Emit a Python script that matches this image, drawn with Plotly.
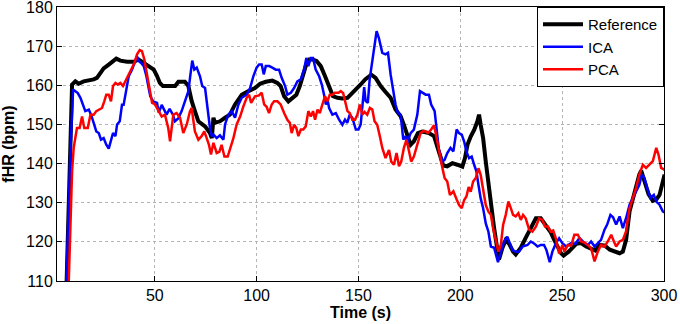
import plotly.graph_objects as go

ref_t = [6.2, 9.4, 11, 12.6, 15.1, 17.6, 20, 21.6, 23.3, 24.9, 27.4, 29.5, 31.1, 33.1, 36.4, 39.7, 42.1, 44.6, 47, 49.5,
         51, 52.5, 54, 60, 61.6, 64.8, 66.5, 68.1, 69.7, 71.4, 74.7, 77.1, 78, 78.8, 79.6, 82, 84.5, 86.9, 89.4, 92.7,
         96, 99.2, 101.7, 104.5, 107.7, 110.2, 111.8, 113.5, 115.6, 117.6, 119.5, 121.2, 122.5, 124.1, 125.8, 127.4,
         129.4, 131.5, 133.6, 135.6, 137.5, 139.7, 142.1, 144.6, 146.2, 148.7, 151.1, 153.3, 156.3, 158.4, 160.9,
         163.3, 165.8, 168.2, 170.7, 172.3, 174, 175.6, 177.2, 179.2, 181.3, 184.6, 187.1, 189.5, 191.6, 193.6, 196.1,
         198.5, 201, 202.3, 203.5, 205.1, 206.8, 208.4, 209.2, 210, 211.2, 212.5, 213.8, 215, 216.6, 218.2, 219,
         220.7, 222.3, 224, 225.9, 227.2, 229.7, 232.1, 234.6, 237.1, 239.5, 242, 244.4, 246.1, 247.7, 249.3, 250.7,
         253.2, 256.9, 259.3, 261.8, 264.2, 266.3, 268.5, 271, 273.4, 275.9, 278.2, 279.8, 281.4, 283.1, 284.7,
         286.3, 287.9, 288.8, 290.4, 292.4, 294.5, 296.2, 297.8, 299.1, 300.3]
ref_hr = [100, 160.2, 161, 160.4, 161, 161.2, 161.5, 161.9, 163.2, 164.3, 165.3, 166.2, 166.8, 166.3, 166, 166, 166.6,
          165.7, 164.9, 164, 162.5, 160.6, 159.8, 159.8, 160.9, 160.9, 159.8, 156, 153.4, 150.8, 149.5, 147.8, 146.5,
          151.7, 150.4, 150.8, 151.7, 152.5, 155.1, 157.6, 158.5, 159.3, 160.4, 160.9, 161.2, 160.6, 159.8, 157.2,
          155.9, 156.8, 157.6, 159.8, 162.3, 164.9, 166.6, 166.6, 166.2, 164.9, 162.3, 159.3, 157.2, 156.8, 156.6,
          156.8, 157.6, 158.9, 160.2, 161.5, 162.7, 161.9, 159.8, 158.3, 156.8, 153.8, 152.1, 149.9, 147, 144.8,
          145.7, 147.8, 148.2, 147.8, 147, 143.1, 139.5, 139.3, 140.1, 139.7, 139.2, 141.4, 144.8, 146.9, 148.6,
          150.8, 152.5, 149.9, 146.5, 140.5, 134.6, 129.4, 123.5, 118, 115.5, 118.5, 120.5, 119.5, 117.5, 116.8,
          118.5, 121, 123.5, 126, 126, 124.3, 122.4, 120.5, 118.8, 117.2, 116.5, 117.5, 119.5, 119.7, 118.8, 118.2,
          117.8, 119.2, 119, 118, 117.4, 117.1, 117.5, 120.5, 127.8, 131.2, 133.8, 137.2, 138.2, 135.5, 132.2,
          130.5, 130.8, 132, 135, 137.2]

ica_t = [6.0, 8.5, 9.9, 11, 12.2, 13.5, 14.8, 15.9, 17.6, 18.7, 20, 21.3, 22.5, 23.6, 24.9, 26.2, 27.4, 28.5, 29.5,
         30.7, 31.5, 32.8, 33.9, 34.7, 36.1, 37.2, 38.8, 40.5, 41.3, 42.1, 43.3, 44.6, 45.9, 47, 47.8, 49.2, 51.1,
         52, 53.4, 55.8, 57.3, 58.9, 59.9, 61.5, 63.2, 64.8, 66.5, 67.3, 68.4, 69.4, 70.6, 72.2, 73.3, 74.7, 75.5,
         76.3, 77.1, 78, 78.8, 80.4, 82, 83.7, 84.5, 86.1, 87.8, 89.4, 91, 92.7, 95.1, 96.8, 98.4, 100, 101.2, 102.5,
         103.5, 104.5, 106.2, 107.7, 109.4, 111, 112.3, 114, 115.1, 116.8, 118.4, 120, 121.7, 123.3, 124.4, 125.4,
         126.6, 127.7, 129, 130.7, 132, 133.1, 134, 134.8, 135.6, 137.2, 138.9, 140.5, 142.1, 143.4, 144.5, 145.7,
         147, 148.7, 150, 151.1, 152, 152.8, 153.5, 154.6, 155.5, 156.3, 157.6, 158.9, 160, 161.7, 163.3, 164.5,
         165.8, 167.1, 168.2, 169.4, 170.7, 172, 173.1, 174, 175.6, 177.2, 178.9, 180.2, 181.3, 183, 184.6, 185.7,
         187.4, 188.7, 189.5, 191.2, 192.3, 193.6, 195.2, 196.6, 198.2, 199.3, 200.7, 201.9, 203, 204.3, 205.6,
         206.8, 207.9, 208.9, 210, 211.2, 212.5, 213.8, 215, 216.6, 218.5, 219.5, 220.6, 221.5, 223.1, 224.3, 225.6,
         227.2, 228.8, 230.5, 233, 234.6, 236.2, 237.9, 239.5, 241.1, 242.3, 243.9, 245.2, 246.9, 248.5, 250.2, 252,
         254.4, 256.5, 258.5, 261, 262.6, 264.2, 265.9, 267.5, 269.1, 270.8, 272.1, 273.7, 275, 276.5, 278.2,
         279.8, 281.4, 283.1, 284.7, 286.3, 287.9, 289.1, 290.4, 291.7, 293.4, 295, 296.2, 297.8, 299.4, 300.3]
ica_hr = [100, 142, 158.9, 158.5, 158, 156.8, 155, 153.4, 153.8, 152.5, 150.4, 148.2, 147.8, 146.1, 146.5, 144.8,
          143.8, 145.7, 147.8, 147, 150, 150.8, 155, 155, 159.8, 162.3, 164, 166.2, 167.4, 166.2, 165.7, 164.9, 162.3,
          159.3, 157.2, 155.9, 155.5, 153, 155, 152.5, 154, 152.5, 150.8, 151.5, 153.4, 155.9, 158.5, 161.9, 166.3,
          164, 164.5, 162.3, 159.8, 159.3, 155.9, 152.5, 149.1, 147, 147.4, 146.5, 147.2, 146.1, 150, 152.5, 153.4,
          151.7, 155, 156.8, 157.6, 159.3, 162.3, 164.5, 165.3, 165.3, 162.8, 164.9, 164.9, 164.5, 164, 164, 161.9,
          159.8, 157.6, 158.1, 159.3, 161, 161.5, 164, 167, 164.9, 167, 167, 164, 162.3, 160.2, 157.6, 155.1, 156.3,
          154.2, 152.5, 152.9, 151.2, 149.9, 151.2, 150.4, 152.5, 151.7, 148.7, 148.7, 150, 155, 159.5, 156, 155.5,
          161.5, 164.5, 169.6, 173.8, 172.1, 168.3, 167.9, 168.3, 162.7, 158.5, 155.1, 152.9, 152.5, 146.1, 147,
          145.3, 147.8, 148.7, 152.5, 158.5, 158.1, 157.6, 157.6, 155.1, 153.4, 147, 143.5, 140.5, 141, 142.7, 144,
          143.1, 148.7, 147.8, 147.4, 145.6, 143.1, 141.4, 141.8, 139.7, 138, 134.6, 131.1, 128.6, 124.7, 122.6,
          118.8, 118.5, 114.8, 116.6, 118.3, 120.1, 121.3, 119.6, 117.9, 117.5, 117.5, 118.8, 119.2, 120.1, 119.6,
          118.8, 119.2, 119.2, 117.9, 114.8, 117.5, 119.6, 120.9, 119.6, 118.8, 119.7, 119.5, 121, 119.7, 119.2,
          120.1, 118.8, 119.7, 120.5, 123.1, 124.4, 126.9, 126.3, 124.4, 126.5, 123.5, 126.1, 129.5, 131.2, 132.9,
          134.6, 137.2, 136.3, 133.8, 131.2, 132, 130.3, 129.5, 127.8, 127.5]

pca_t = [7.2, 9.4, 10.2, 11, 11.8, 13.1, 14.3, 15.4, 17.1, 18.4, 20, 21.3, 23, 24.1, 25.2, 26.2, 27.4, 28.5, 29.5,
         30.7, 31.8, 33.1, 34.4, 35.6, 36.7, 38.3, 40, 41.3, 42.6, 43.7, 44.9, 45.9, 47, 47.8, 48.7, 50, 51.7, 53.4,
         55, 56.6, 57.5, 58.3, 59.1, 60.7, 62.4, 64, 65.7, 67.3, 68.1, 69.7, 71.4, 73, 74.3, 75.5, 76.6, 77.6, 78.8,
         80.4, 81.7, 82.8, 84.2, 85.8, 86.9, 88.6, 90.2, 91.9, 93.5, 95.1, 96.3, 97.3, 99.2, 101.2, 102.5, 103.7,
         104.9, 106.1, 107.4, 108.6, 110.2, 111.8, 113.5, 115.1, 116.3, 117.2, 118.4, 119.5, 120.5, 121.7, 122.9,
         124.1, 125.4, 126.6, 127.7, 128.7, 129.9, 131, 132.3, 133.6, 134.8, 135.9, 137.2, 138.5, 140.2, 141.3,
         142.5, 143.8, 144.6, 145.7, 147, 148.3, 149.5, 150.7, 151.9, 153, 154.3, 155.6, 156.8, 157.9, 159.2, 160.5,
         161.7, 163.3, 165, 166.1, 167.4, 168.7, 169.9, 171, 172.3, 173.6, 174.8, 175.9, 177.2, 178.9, 180.5, 182.1,
         184.1, 185.7, 187.1, 188.4, 189.5, 191.2, 192.3, 193.6, 194.9, 196.6, 198.2, 199.4, 200.7, 201.9, 203,
         204.1, 205.1, 206.3, 207.6, 208.9, 210, 211.2, 212.5, 213.8, 215, 216.1, 217.4, 218.7, 219.9, 221, 222.3,
         223.6, 224.8, 225.9, 227.2, 228.5, 229.7, 230.8, 232.1, 233.8, 235.4, 237.1, 238.7, 240.3, 241.6, 243,
         244.4, 245.6, 246.9, 248.5, 250.2, 251.1, 252.8, 254.4, 256, 257.7, 259.3, 261, 262.6, 264.2, 265.9, 267.5,
         269.1, 270.8, 272.4, 274.1, 275.4, 276.5, 278.2, 279.8, 281.4, 283.1, 284.7, 286.3, 287.9, 289.6, 291.2,
         292.9, 294.5, 296.2, 297.3, 298.6, 300.3]
pca_hr = [100, 138, 144, 147, 149.1, 149.1, 152, 149.1, 149.1, 152.5, 152.5, 153.4, 153.8, 154.2, 155.9, 157.6, 157.6,
          155.9, 159.8, 160.6, 160.2, 160.6, 159.8, 161, 162.3, 164, 165.7, 167.9, 169, 168.7, 166.6, 163.6, 160.2,
          157.6, 155.5, 155.2, 153.5, 152, 152.5, 149.1, 145.7, 150, 152.5, 152.9, 151.7, 147.8, 150, 153.4, 154.2,
          148.2, 146.1, 147, 148.2, 146.5, 144.8, 142.3, 145.3, 142.7, 143, 144.8, 141.8, 141.8, 143.5, 146.5, 150,
          152, 154.6, 156.8, 157.6, 155.5, 157.2, 157.4, 158.1, 155.1, 154.5, 152.9, 155.1, 155.9, 155.9, 155.1,
          152.9, 151.2, 150.4, 147.8, 149.9, 149.1, 147, 148.7, 148.7, 149.5, 153.4, 152, 153.4, 151.2, 153.8, 152.9,
          155.1, 157.2, 155.9, 157.6, 157.6, 158.1, 158.1, 158.5, 158, 155.1, 153.4, 152.9, 151.2, 151.2, 152.5,
          155.1, 152.5, 153.2, 152.5, 154.2, 153.8, 150.8, 149.9, 147, 144, 141.4, 143.5, 140.5, 139.7, 142.7, 139.3,
          140.5, 144, 146.1, 143.1, 140.5, 141.8, 144.8, 147.8, 148.4, 147.8, 148.7, 149.8, 146.5, 143.1, 138.9,
          136.3, 135.4, 132, 132.9, 130.8, 129.4, 128.6, 130.7, 131.6, 134, 132.8, 135.4, 136.3, 138.8, 137.1, 132.8,
          129.4, 127.7, 126.9, 123.5, 120.1, 117.5, 119.2, 124.3, 126.9, 130.3, 128.6, 126.9, 126.5, 127.3, 125.6,
          126.9, 126, 123.1, 122.6, 123.9, 126, 125.6, 123.9, 123.9, 122.6, 122.9, 120.9, 117, 119.2, 117.5, 119.2,
          119, 121.8, 121.8, 120.1, 119.8, 119.2, 118.4, 115, 117.5, 119.2, 118.8, 120.1, 121.8, 120.1, 118.8, 120.1,
          120.5, 122.7, 128.6, 131.2, 133.8, 137.2, 139.7, 138.9, 139.7, 140.6, 144, 142.3, 138.9, 138.4]

x_ticks = [50, 100, 150, 200, 250, 300]
y_ticks = [110, 120, 130, 140, 150, 160, 170, 180]

FONT = "Arial, Liberation Sans, Helvetica, sans-serif"

fig = go.Figure()
fig.add_trace(go.Scatter(x=ref_t, y=ref_hr, mode="lines", name="Reference",
                         line=dict(color="#000000", width=4)))
fig.add_trace(go.Scatter(x=ica_t, y=ica_hr, mode="lines", name="ICA",
                         line=dict(color="#0000FF", width=2.5)))
fig.add_trace(go.Scatter(x=pca_t, y=pca_hr, mode="lines", name="PCA",
                         line=dict(color="#FF0000", width=2.5)))

axis_common = dict(showline=True, linecolor="#000000", linewidth=1, mirror="allticks",
                   ticks="inside", ticklen=5, tickcolor="#000000",
                   showgrid=True, gridcolor="#b4b4b4", griddash="dot", gridwidth=1,
                   zeroline=False, ticklabeloverflow="allow",
                   tickfont=dict(family=FONT, size=16, color="#000000"))

fig.update_xaxes(range=[2, 300], tickvals=x_ticks,
                 title=dict(text="<b>Time (s)</b>", font=dict(family=FONT, size=16, color="#000000"), standoff=2),
                 **axis_common)
fig.update_yaxes(range=[110, 180], tickvals=y_ticks,
                 title=dict(text="<b>fHR (bpm)</b>", font=dict(family=FONT, size=16, color="#000000"), standoff=7),
                 **axis_common)

fig.update_layout(
    width=680, height=324,
    margin=dict(l=57, r=16, t=7, b=43, autoexpand=False),
    paper_bgcolor="#ffffff", plot_bgcolor="#ffffff",
    font=dict(family=FONT, size=16, color="#000000"),
    showlegend=True,
    legend=dict(x=1, y=1, xanchor="right", yanchor="top", bgcolor="#ffffff",
                bordercolor="#000000", borderwidth=1,
                font=dict(family=FONT, size=15, color="#000000"),
                tracegroupgap=0, itemwidth=40),
)

fig.write_html("out.html", config={"displayModeBar": False},
               post_script="document.body.style.margin='0';document.body.style.padding='0';")
